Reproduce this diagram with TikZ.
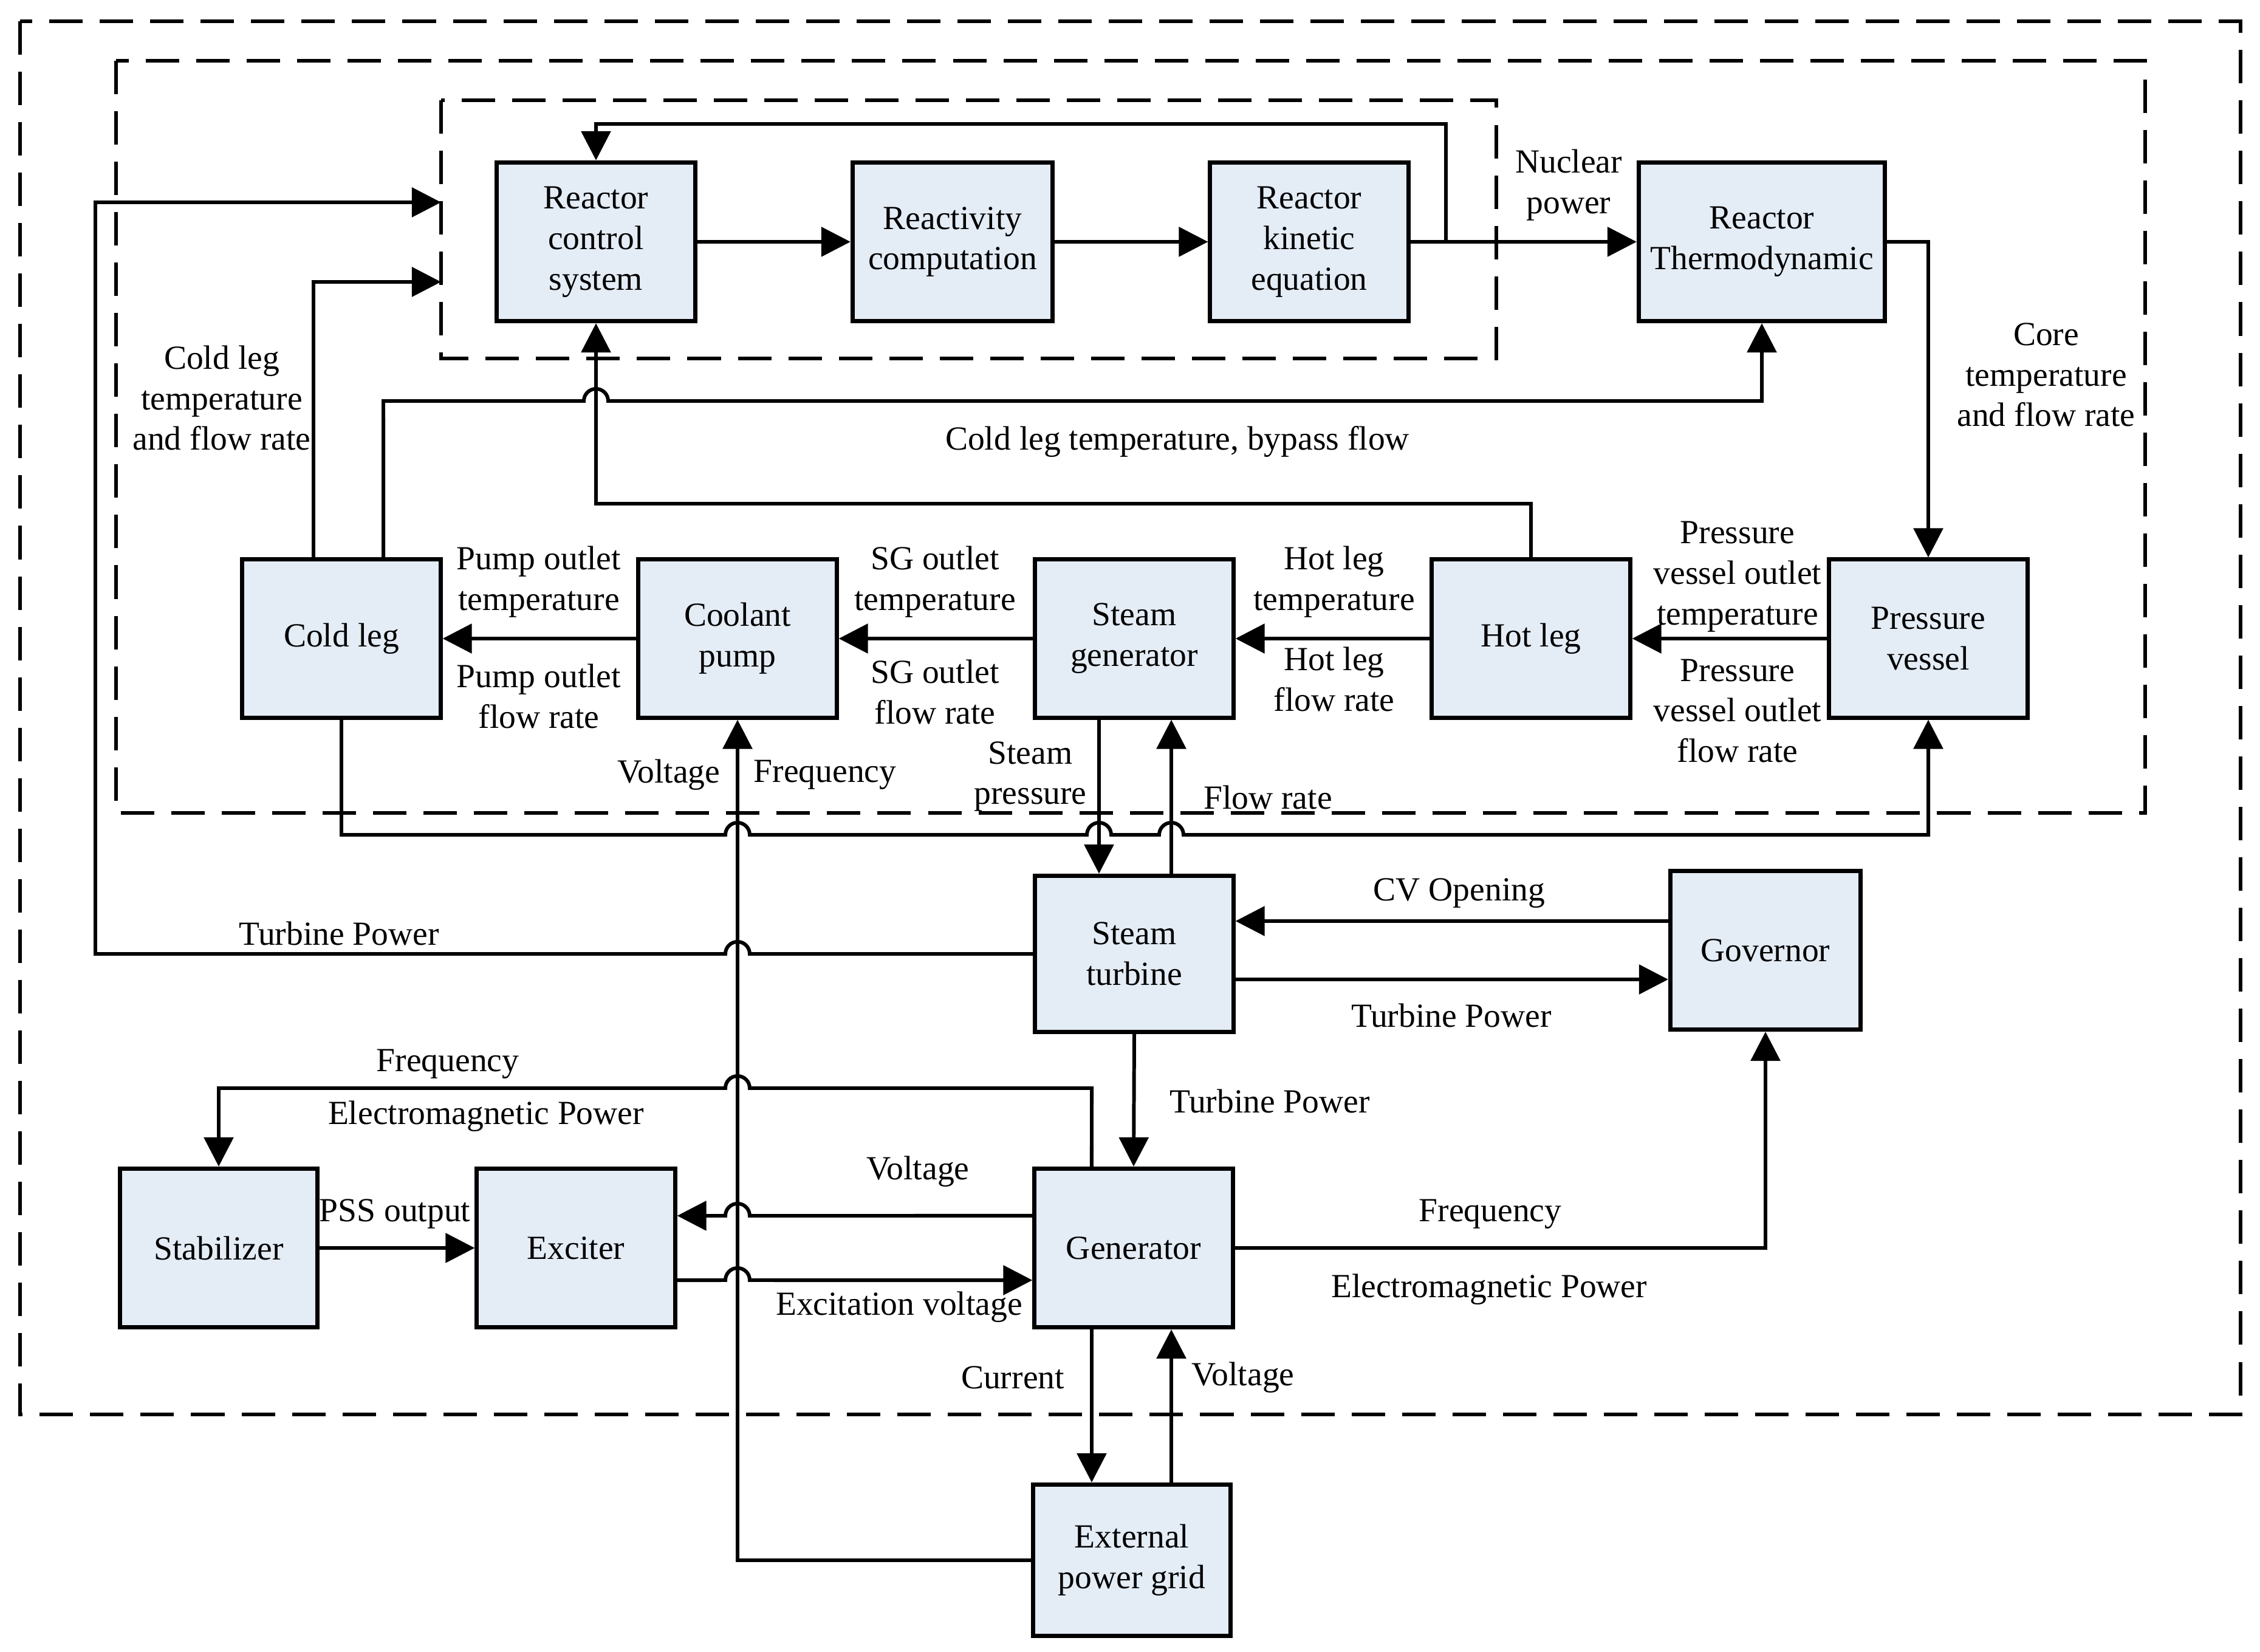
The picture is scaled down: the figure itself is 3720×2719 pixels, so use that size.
\documentclass[tikz,border=0pt]{standalone}
\usepackage{fontspec}
\setmainfont{Liberation Serif}
\usetikzlibrary{arrows.meta}
\definecolor{boxfill}{RGB}{228,236,246}
\begin{document}
\begin{tikzpicture}[x=0.01cm,y=-0.01cm,
  font=\fontsize{15.8}{19}\selectfont,
  blk/.style={draw, line width=2pt, fill=boxfill, align=center, inner sep=2pt, minimum width=3.26cm, minimum height=2.61cm},
  lbl/.style={align=center, inner sep=1pt},
  conn/.style={line width=1.7pt, -{Triangle[length=0.48cm,width=0.48cm]}},
  wire/.style={line width=1.7pt},
  frame/.style={line width=1.8pt, dash pattern=on 0.55cm off 0.28cm}
]
\fill[white] (0,0) rectangle (3720,2719);
\useasboundingbox (0,0) rectangle (3720,2719);

% frames
\draw[frame] (33,35) rectangle (3688,2328);
\draw[frame] (191,100) rectangle (3531,1338);
\draw[frame] (726,165) rectangle (2463,590);
\coordinate (in1) at (726,333);
\coordinate (in2) at (726,464);

% blocks
\node[blk] (rcs) at (981,398) {Reactor\\control\\system};
\node[blk, minimum width=3.29cm] (rc) at (1568,398) {Reactivity\\computation};
\node[blk] (rke) at (2155,398) {Reactor\\kinetic\\equation};
\node[blk, minimum width=4.05cm] (rt) at (2900,398) {Reactor\\Thermodynamic};
\node[blk, minimum height=2.6cm] (cl) at (562,1051) {Cold leg};
\node[blk, minimum height=2.6cm] (cp) at (1214,1051) {Coolant\\pump};
\node[blk, minimum height=2.6cm] (sg) at (1867,1051) {Steam\\generator};
\node[blk, minimum height=2.6cm] (hl) at (2520,1051) {Hot leg};
\node[blk, minimum height=2.6cm] (pv) at (3174,1051) {Pressure\\vessel};
\node[blk, minimum height=2.57cm] (st) at (1867,1570) {Steam\\turbine};
\node[blk, minimum width=3.13cm] (gov) at (2906,1564) {Governor};
\node[blk, minimum width=3.24cm] (stab) at (360,2054) {Stabilizer};
\node[blk] (exc) at (948,2054) {Exciter};
\node[blk] (gen) at (1866,2054) {Generator};
\node[blk, minimum width=3.24cm, minimum height=2.49cm] (ext) at (1863,2568) {External\\power grid};

% reactor part
\draw[conn] (rcs.east) -- (rc.west);
\draw[conn] (rc.east) -- (rke.west);
\draw[conn] (rke.east) -- (rt.west);
\coordinate (fb) at (2380,398);
\draw[conn] (fb) -- (2380,204) -| (rcs.north);
\draw[conn] (rt.east) -| (pv.north);
\draw[conn] (hl.north) -- (2520,829) -| (rcs.south);
\draw[conn] ([xshift=-0.46cm]cl.north) |- (in2);
\draw[conn] ([xshift=0.69cm]cl.north) -- (631,660) -- (961,660)
  arc[start angle=180,end angle=0,radius=0.2cm] -| (rt.south);

% primary loop
\draw[conn] (pv.west) -- (hl.east);
\draw[conn] (hl.west) -- (sg.east);
\draw[conn] (sg.west) -- (cp.east);
\draw[conn] (cp.west) -- (cl.east);
\draw[conn] (cl.south) -- (562,1374) -- (1194,1374)
  arc[start angle=180,end angle=0,radius=0.2cm] -- (1789,1374)
  arc[start angle=180,end angle=0,radius=0.2cm] -- (1908,1374)
  arc[start angle=180,end angle=0,radius=0.2cm] -| (pv.south);

% steam generator / turbine
\draw[conn] ([xshift=-0.58cm]sg.south) -- ([xshift=-0.58cm]st.north);
\draw[conn] ([xshift=0.61cm]st.north) -- ([xshift=0.61cm]sg.south);
\draw[conn] (st.west) -- (1234,1570)
  arc[start angle=0,end angle=180,radius=0.2cm] -- (157,1570) |- (in1);

% turbine / governor
\coordinate (cv) at ([yshift=0.48cm]gov.west);
\draw[conn] (cv) -- (cv -| st.east);
\coordinate (tp) at ([yshift=-0.42cm]st.east);
\draw[conn] (tp) -- (tp -| gov.west);
\draw[conn] (st.south) -- (gen.north);

% generator part
\draw[conn] ([xshift=-0.69cm]gen.north) -- (1797,1791) -- (1234,1791)
  arc[start angle=0,end angle=180,radius=0.2cm] -| (stab.north);
\draw[conn] (stab.east) -- (exc.west);
\coordinate (gv) at ([yshift=0.53cm]gen.west);
\draw[conn] (gv) -- (1234,2001)
  arc[start angle=0,end angle=180,radius=0.2cm] -- (gv -| exc.east);
\coordinate (ev) at ([yshift=-0.53cm]exc.east);
\draw[conn] (ev) -- (1194,2107)
  arc[start angle=180,end angle=0,radius=0.2cm] -- (ev -| gen.west);
\draw[conn] (gen.east) -| (gov.south);
\coordinate (cu) at ([xshift=-0.69cm]gen.south);
\draw[conn] (cu) -- (cu |- ext.north);
\coordinate (vu) at ([xshift=0.62cm]gen.south);
\draw[conn] (vu |- ext.north) -- (vu);
\draw[conn] (ext.west) -| (cp.south);

% labels
\node[lbl] (l1) at (365,655) {Cold leg\\temperature\\and flow rate};
\node[lbl] (l2) at (1938,727) {Cold leg temperature, bypass flow};
\node[lbl] (l3) at (2582,305) {Nuclear\\power};
\node[lbl] (l4) at (3368,617) {Core\\temperature\\and flow rate};
\node[lbl] (l5) at (887,958) {Pump outlet\\temperature};
\node[lbl] (l6) at (887,1146) {Pump outlet\\flow rate};
\node[lbl] (l7) at (1539,958) {SG outlet\\temperature};
\node[lbl] (l8) at (1539,1139) {SG outlet\\flow rate};
\node[lbl] (l9) at (2196,958) {Hot leg\\temperature};
\node[lbl] (l10) at (2196,1118) {Hot leg\\flow rate};
\node[lbl] (l11) at (2860,949) {Pressure\\vessel outlet\\temperature};
\node[lbl] (l12) at (2860,1170) {Pressure\\vessel outlet\\flow rate};
\node[lbl] (l13) at (1101,1275) {Voltage};
\node[lbl] (l14) at (1358,1275) {Frequency};
\node[lbl] (l15) at (1696,1278) {Steam\\pressure};
\node[lbl] (l16) at (2087,1312) {Flow rate};
\node[lbl] (l17) at (558,1536) {Turbine Power};
\node[lbl] (l18) at (2402,1470) {CV Opening};
\node[lbl] (l19) at (2389,1671) {Turbine Power};
\node[lbl] (l20) at (2090,1812) {Turbine Power};
\node[lbl] (l21) at (737,1751) {Frequency};
\node[lbl] (l22) at (800,1837) {Electromagnetic Power};
\node[lbl] (l23) at (650,1998) {PSS output};
\node[lbl] (l24) at (1511,1928) {Voltage};
\node[lbl] (l25) at (1480,2151) {Excitation voltage};
\node[lbl] (l26) at (2453,1998) {Frequency};
\node[lbl] (l27) at (2451,2122) {Electromagnetic Power};
\node[lbl] (l28) at (1667,2267) {Current};
\node[lbl] (l29) at (2046,2267) {Voltage};
\end{tikzpicture}
\end{document}
